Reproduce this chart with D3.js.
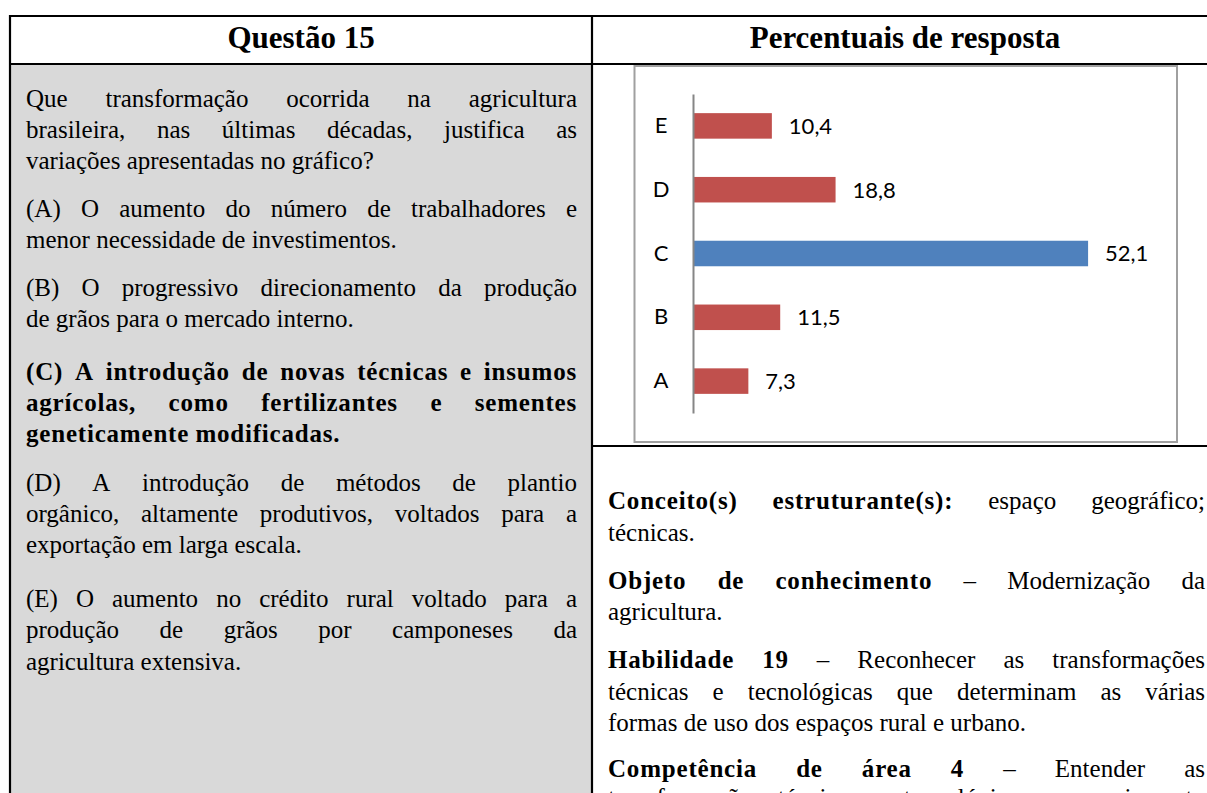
<!DOCTYPE html>
<html><head><meta charset="utf-8">
<script src="https://cdn.jsdelivr.net/npm/d3@7"></script>
<style>body{margin:0;background:#fff;overflow:hidden} svg{display:block}</style>
</head><body><svg id="c" width="1207" height="793"></svg>
<script>
// ---- chart data ----
const categories = ["A", "B", "C", "D", "E"];
const values = [7.3, 11.5, 52.1, 18.8, 10.4];
const valueLabels = ["7,3", "11,5", "52,1", "18,8", "10,4"];
const correctAnswer = "C";
const xDomain = [0, 60];

// ---- table texts ----
const headerLeft = "Questão 15";
const headerRight = "Percentuais de resposta";
const leftLines = [
  {y:107, segs:[["Que transformação ocorrida na agricultura",0]], j:1},
  {y:138, segs:[["brasileira, nas últimas décadas, justifica as",0]], j:1},
  {y:169, segs:[["variações apresentadas no gráfico?",0]], j:0},
  {y:217, segs:[["(A) O aumento do número de trabalhadores e",0]], j:1},
  {y:248, segs:[["menor necessidade de investimentos.",0]], j:0},
  {y:296, segs:[["(B) O progressivo direcionamento da produção",0]], j:1},
  {y:327, segs:[["de grãos para o mercado interno.",0]], j:0},
  {y:380, segs:[["(C) A introdução de novas técnicas e insumos",1]], j:1},
  {y:411, segs:[["agrícolas, como fertilizantes e sementes",1]], j:1},
  {y:442, segs:[["geneticamente modificadas.",1]], j:0},
  {y:491, segs:[["(D) A introdução de métodos de plantio",0]], j:1},
  {y:522, segs:[["orgânico, altamente produtivos, voltados para a",0]], j:1},
  {y:553, segs:[["exportação em larga escala.",0]], j:0},
  {y:607, segs:[["(E) O aumento no crédito rural voltado para a",0]], j:1},
  {y:638, segs:[["produção de grãos por camponeses da",0]], j:1},
  {y:670, segs:[["agricultura extensiva.",0]], j:0}
];
const rightLines = [
  {y:509, segs:[["Conceito(s) estruturante(s):",1],["espaço geográfico;",0]], j:1},
  {y:541, segs:[["técnicas.",0]], j:0},
  {y:589, segs:[["Objeto de conhecimento",1],["– Modernização da",0]], j:1},
  {y:620, segs:[["agricultura.",0]], j:0},
  {y:668, segs:[["Habilidade 19",1],["– Reconhecer as transformações",0]], j:1},
  {y:700, segs:[["técnicas e tecnológicas que determinam as várias",0]], j:1},
  {y:731, segs:[["formas de uso dos espaços rural e urbano.",0]], j:0},
  {y:777, segs:[["Competência de área 4",1],["– Entender as",0]], j:1},
  {y:806, segs:[["transformações técnicas e tecnológicas e seu impacto",0]], j:1}
];

const svg = d3.select("#c");
const serif = "'Liberation Serif','Times New Roman',serif";
const sans = "Lato,'Open Sans',sans-serif";
const bodySize = 25;

// backgrounds
svg.append("rect").attr("x",11).attr("y",65).attr("width",580).attr("height",740).attr("fill","#d9d9d9");

// table lines
const lines = [
  [9,16,1207,16],[10,15,10,793],[9,64,1207,64],[592,15,592,793],[592,446,1207,446]
];
svg.selectAll("line.tb").data(lines).join("line").attr("class","tb")
  .attr("x1",d=>d[0]).attr("y1",d=>d[1]).attr("x2",d=>d[2]).attr("y2",d=>d[3])
  .attr("stroke","#000").attr("stroke-width",2.2);

// headers
svg.append("text").attr("x",301).attr("y",48).attr("text-anchor","middle")
  .attr("font-family",serif).attr("font-weight","bold").attr("font-size",31).text(headerLeft);
svg.append("text").attr("x",905).attr("y",48).attr("text-anchor","middle")
  .attr("font-family",serif).attr("font-weight","bold").attr("font-size",31).text(headerRight);

// justified paragraphs
function drawLines(data, x0, x1) {
  const g = svg.append("g").attr("font-family",serif).attr("font-size",bodySize).attr("fill","#000");
  data.forEach(ln => {
    const words = [];
    ln.segs.forEach(s => s[0].split(" ").forEach(w => words.push({t:w, b:s[1]})));
    const nodes = words.map(w => g.append("text").attr("y",ln.y)
      .attr("font-weight", w.b ? "bold" : "normal")
      .attr("letter-spacing", w.b ? "0.8px" : null).text(w.t));
    const widths = nodes.map(n => n.node().getComputedTextLength());
    const total = d3.sum(widths);
    const gap = ln.j && words.length > 1 ? (x1 - x0 - total) / (words.length - 1) : bodySize * 0.25;
    let x = x0;
    nodes.forEach((n,i) => { n.attr("x", x); x += widths[i] + gap; });
  });
}
drawLines(leftLines, 26, 577);
drawLines(rightLines, 608, 1205);

// chart frame
svg.append("rect").attr("x",634.5).attr("y",66).attr("width",542.5).attr("height",376)
  .attr("fill","#fff").attr("stroke","#a0a0a0").attr("stroke-width",2);

const x = d3.scaleLinear().domain(xDomain).range([693, 1148]);
const y = d3.scaleBand().domain(categories.slice().reverse()).range([94, 413])
  .paddingInner(0.6).paddingOuter(0.3);

svg.append("g").selectAll("rect").data(categories).join("rect")
  .attr("x", x(0)).attr("y", d => y(d)).attr("height", y.bandwidth())
  .attr("width", (d,i) => x(values[i]) - x(0))
  .attr("fill", d => d === correctAnswer ? "#4f81bd" : "#c0504d");

// category axis
const axis = svg.append("g").attr("transform", `translate(${x(0)},0)`)
  .call(d3.axisLeft(y).tickSize(0));
axis.select(".domain").attr("stroke","#868686").attr("stroke-width",2);
axis.selectAll("text").attr("font-family",sans).attr("font-size",22).attr("fill","#000")
  .attr("text-anchor","middle").attr("x",-32);

// value labels
svg.append("g").selectAll("text").data(categories).join("text")
  .attr("x", (d,i) => x(values[i]) + 17)
  .attr("y", d => y(d) + y.bandwidth()/2)
  .attr("dy","0.36em")
  .attr("font-family",sans).attr("font-size",22).attr("fill","#000")
  .text((d,i) => valueLabels[i]);
</script></body></html>
